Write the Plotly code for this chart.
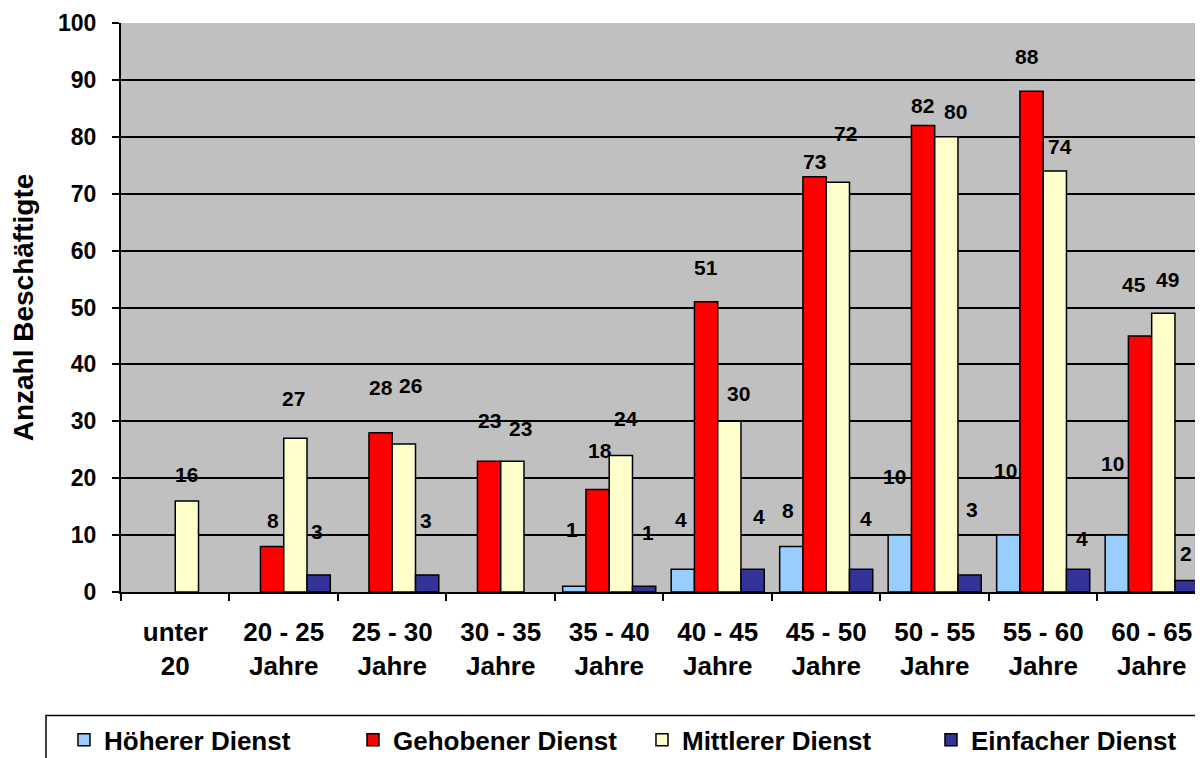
import plotly.graph_objects as go

# ---------------- data ----------------
categories = ["unter<br>20", "20 - 25<br>Jahre", "25 - 30<br>Jahre", "30 - 35<br>Jahre",
              "35 - 40<br>Jahre", "40 - 45<br>Jahre", "45 - 50<br>Jahre", "50 - 55<br>Jahre",
              "55 - 60<br>Jahre", "60 - 65<br>Jahre"]

hoeherer = [None, None, None, None, 1, 4, 8, 10, 10, 10]
gehobener = [None, 8, 28, 23, 18, 51, 73, 82, 88, 45]
mittlerer = [16, 27, 26, 23, 24, 30, 72, 80, 74, 49]
einfacher = [None, 3, 3, None, 1, 4, 4, 3, 4, 2]

series_names = ["Höherer Dienst", "Gehobener Dienst", "Mittlerer Dienst", "Einfacher Dienst"]
y_ticks = [0, 10, 20, 30, 40, 50, 60, 70, 80, 90, 100]

# ---------------- styles ----------------
colors = ["#99CCFF", "#FF0000", "#FFFFCC", "#333399"]
FONT = "Liberation Sans, Arial, sans-serif"
BARGAP = 0.142

# per-label nudges in pixels (dx, dy; dy negative = upward) copied from the reference layout
label_nudge = [
    [None, None, None, None, (-2, -57), (-2, -50), (-3, -36), (-5, -59), (-3, -65), (-4, -72)],
    [None, (1, -26), (0, -45), (0, -41), (2, -39), (0, -34), (0, -15), (-1, -20), (-5, -35), (-6, -51)],
    [(0, -26), (-2, -40), (7, -59), (8, -33), (5, -37), (9, -28), (8, -49), (9, -25), (5, -24), (4, -34)],
    [None, (-2, -43), (-1, -54), None, (4, -54), (6, -53), (5, -51), (2, -65), (4, -31), (-1, -27)],
]

all_series = [hoeherer, gehobener, mittlerer, einfacher]

fig = go.Figure()
for name, vals, col in zip(series_names, all_series, colors):
    fig.add_trace(go.Bar(
        x=categories, y=vals, name=name,
        marker=dict(color=col, line=dict(color="black", width=1.5)),
    ))

# value labels
n_series = len(all_series)
w = (1 - BARGAP) / n_series
annotations = []
for k, vals in enumerate(all_series):
    for c, v in enumerate(vals):
        if v is None:
            continue
        dx, dy = label_nudge[k][c]
        annotations.append(dict(
            x=c + (k - (n_series - 1) / 2) * w, y=v, xref="x", yref="y",
            text=str(v), showarrow=False, xanchor="center", yanchor="middle",
            xshift=dx, yshift=-dy,
            font=dict(family=FONT, size=21, color="black", weight="bold"),
        ))

# page has an 8px body margin: figure sized/margined so the plot area lands where the reference has it
fig.update_layout(
    width=1195, height=750,
    margin=dict(l=113, r=0, t=15, b=165.5, autoexpand=False),
    paper_bgcolor="white", plot_bgcolor="#C0C0C0",
    barmode="group", bargap=BARGAP, bargroupgap=0,
    font=dict(family=FONT, color="black", weight="bold"),
    annotations=annotations,
    shapes=[dict(type="rect", xref="paper", yref="paper",
                 x0=-0.0693, x1=1.02, y0=-0.2169, y1=-0.33,
                 line=dict(color="black", width=1.5), fillcolor="white", layer="below")],
    showlegend=True,
    legend=dict(
        orientation="h", x=-0.0527, xanchor="left", y=-0.2186, yanchor="top",
        bgcolor="rgba(0,0,0,0)", borderwidth=0,
        font=dict(family=FONT, size=26, color="black", weight="bold"),
        entrywidth=244, entrywidthmode="pixels", itemwidth=30,
        traceorder="normal",
    ),
)

fig.update_xaxes(
    type="category", range=[-0.5, 9.473],
    tickson="boundaries", ticks="outside", ticklen=7, tickwidth=1.5, tickcolor="black",
    showline=True, linecolor="black", linewidth=2, showgrid=False,
    tickfont=dict(family=FONT, size=26, color="black", weight="bold"),
    ticklabelstandoff=16,
    automargin=False,
)
fig.update_yaxes(
    range=[0, 100], tickvals=y_ticks, ticks="outside", ticklen=7, tickwidth=1.5, tickcolor="black",
    showline=True, linecolor="black", linewidth=2,
    showgrid=True, gridcolor="black", gridwidth=1.5, zeroline=False,
    tickfont=dict(family=FONT, size=23, color="black", weight="bold"),
    ticklabelstandoff=11,
    title=dict(text="Anzahl Beschäftigte", standoff=22,
               font=dict(family=FONT, size=28, color="black", weight="bold")),
    automargin=False,
)

fig.write_html("out.html")
